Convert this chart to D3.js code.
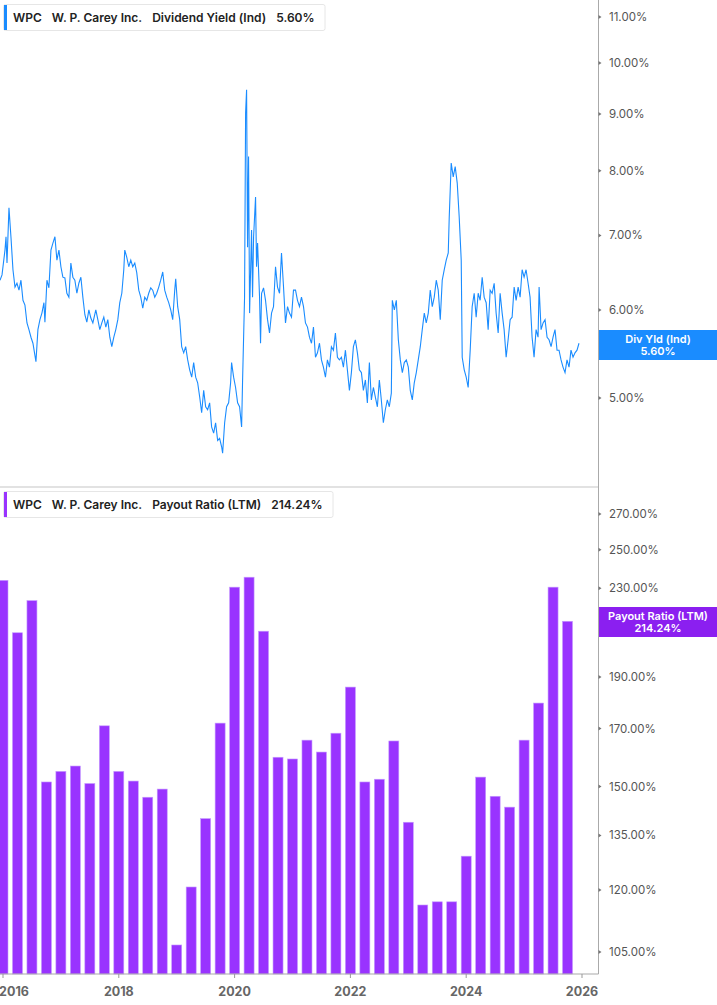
<!DOCTYPE html>
<html>
<head>
<meta charset="utf-8">
<script src="https://cdn.jsdelivr.net/npm/d3@7"></script>
<style>
  body { margin: 0; background: #fff; }
  svg { display: block; font-family: Inter, "Noto Sans", sans-serif; }
</style>
</head>
<body>
<svg id="chart" width="717" height="1005"></svg>
<script>
// Dividend yield (Ind), years after 2016 and value in %
var yldYears = [-0.052,-0.017,0.034,0.052,0.069,0.103,0.138,0.172,0.207,0.241,0.276,0.310,0.345,0.379,0.414,0.448,0.483,0.517,0.569,0.603,0.638,0.672,0.707,0.724,0.759,0.793,0.828,0.862,0.897,0.931,0.966,
  1.000,1.034,1.069,1.103,1.138,1.172,1.207,1.241,1.276,1.310,1.345,1.379,1.414,1.448,1.483,1.517,1.552,1.603,1.638,1.672,1.707,1.741,1.776,1.810,1.845,1.879,1.914,1.948,1.983,
  2.017,2.052,2.086,2.103,2.138,2.172,2.207,2.241,2.276,2.310,2.345,2.379,2.414,2.448,2.483,2.517,2.552,2.586,2.621,2.655,2.690,2.724,2.759,2.793,2.828,2.862,2.897,2.931,2.966,2.983,
  3.017,3.052,3.086,3.121,3.155,3.190,3.224,3.259,3.293,3.328,3.362,3.397,3.431,3.466,3.500,3.534,3.569,3.603,3.638,3.672,3.707,3.741,3.776,3.793,3.828,3.862,3.897,3.931,3.948,3.983,
  4.017,4.052,4.086,4.121,4.138,4.172,4.190,4.207,4.224,4.241,4.259,4.293,4.310,4.328,4.362,4.379,4.397,4.431,4.448,4.466,4.500,4.534,4.569,4.603,4.638,4.672,4.707,4.741,4.776,4.810,4.845,4.879,4.914,4.948,4.983,
  5.017,5.052,5.086,5.121,5.155,5.190,5.224,5.259,5.293,5.328,5.362,5.397,5.431,5.466,5.500,5.534,5.569,5.603,5.638,5.672,5.707,5.741,5.776,5.810,5.845,5.879,5.914,5.948,5.983,
  6.017,6.052,6.086,6.121,6.155,6.190,6.224,6.259,6.293,6.328,6.362,6.397,6.431,6.466,6.500,6.534,6.569,6.603,6.638,6.672,6.707,6.724,6.759,6.793,6.828,6.862,6.897,6.931,6.966,
  7.000,7.034,7.069,7.103,7.138,7.172,7.207,7.241,7.276,7.310,7.345,7.379,7.414,7.448,7.483,7.517,7.552,7.586,7.621,7.655,7.690,7.707,7.741,7.776,7.810,7.845,7.879,7.914,7.931,7.966,
  8.000,8.034,8.069,8.103,8.138,8.172,8.207,8.241,8.276,8.310,8.345,8.379,8.414,8.448,8.483,8.517,8.552,8.586,8.621,8.655,8.690,8.724,8.759,8.793,8.828,8.862,8.897,8.931,8.966,
  9.000,9.034,9.069,9.103,9.138,9.172,9.207,9.241,9.259,9.293,9.328,9.362,9.397,9.431,9.466,9.500,9.534,9.569,9.603,9.638,9.672,9.707,9.741,9.776,9.810,9.845,9.879,9.914,9.948];
var yldValues = [6.38,6.45,6.79,6.98,6.61,7.41,6.97,6.52,6.29,6.34,6.25,6.38,6.12,6.06,5.84,5.76,5.67,5.60,5.39,5.76,5.88,5.96,6.09,5.85,6.38,6.28,6.79,6.89,6.98,6.65,6.79,
  6.56,6.42,6.41,6.21,6.16,6.61,6.42,6.38,6.21,6.34,6.42,6.16,5.94,5.85,6.00,5.90,5.84,6.00,5.88,5.76,5.84,5.91,5.79,5.88,5.67,5.56,5.67,5.76,5.88,
  6.09,6.21,6.52,6.79,6.69,6.56,6.65,6.56,6.61,6.48,6.25,6.16,6.02,6.16,6.12,6.21,6.28,6.25,6.16,6.21,6.29,6.38,6.49,6.25,6.16,6.09,6.00,5.88,6.25,6.40,
  6.04,5.88,5.56,5.49,5.56,5.41,5.30,5.22,5.38,5.22,5.16,5.01,4.85,5.08,4.91,4.88,4.95,4.71,4.65,4.75,4.58,4.60,4.52,4.46,4.75,4.91,4.95,5.16,5.38,5.22,
  5.11,4.95,4.91,4.71,5.19,6.16,9.02,9.46,6.83,8.24,5.96,7.08,6.16,6.98,7.58,6.56,6.89,6.16,5.60,6.21,6.28,6.12,5.88,5.72,5.96,6.04,6.56,6.29,6.21,6.75,6.29,5.84,6.04,5.96,5.91,
  6.25,6.25,6.12,6.04,6.16,6.04,5.84,5.79,5.67,5.60,5.79,5.44,5.49,5.60,5.41,5.33,5.22,5.41,5.33,5.56,5.52,5.72,5.44,5.41,5.44,5.33,5.52,5.30,5.08,
  5.27,5.56,5.64,5.49,5.30,5.27,5.08,5.19,4.95,5.38,4.98,5.11,5.01,4.91,5.19,4.98,4.75,4.88,4.98,4.91,5.05,6.12,6.00,6.12,5.64,5.41,5.27,5.38,5.41,
  5.33,5.08,4.98,5.16,5.27,5.41,5.56,5.76,5.96,5.84,5.96,6.25,6.04,6.16,6.38,6.25,5.88,6.38,6.52,6.65,6.75,7.27,8.13,7.90,8.07,7.80,7.27,6.65,5.44,5.30,
  5.22,5.11,5.52,6.04,6.21,5.91,6.21,6.12,6.42,6.16,6.09,5.76,6.25,6.21,6.34,5.96,5.72,6.21,5.96,5.76,5.44,5.64,5.88,5.91,6.29,6.12,6.29,6.16,6.52,
  6.42,6.52,6.34,6.16,5.67,5.44,5.76,5.67,6.29,5.76,5.84,5.88,5.67,5.64,5.56,5.67,5.76,5.52,5.52,5.41,5.33,5.27,5.41,5.33,5.52,5.44,5.49,5.52,5.60];

// Payout ratio (LTM), quarterly from 2016 Q1
var payoutStart = 2016;
var payoutValues = [234,209,224,151.5,155,156.8,151,171,155,151.8,146.6,149.2,106.6,120.8,140,172,
  230.6,235.6,209.7,159.8,159.2,165.8,161.6,168.3,185.9,151.5,152.4,165.5,138.9,116.2,117,117,
  129.1,153.1,146.9,143.5,165.8,179.6,230.6,214.24];

var yldTicks = [5,6,7,8,9,10,11];
var payTicks = [105,120,135,150,170,190,210,230,250,270];
var yearTicks = [2016,2018,2020,2022,2024,2026];

var svg = d3.select("#chart");
var axisX = 598.5, baseY = 974;

var x = d3.scaleLinear().domain([2016, 2026]).range([3, 582]);
var yTop = d3.scaleLog().domain([5, 10]).range([398, 63]);
var yBot = d3.scaleLog().domain([105, 270]).range([952, 514]);

svg.append("defs").append("clipPath").attr("id", "clip")
  .append("rect").attr("x", 0).attr("y", 0).attr("width", axisX).attr("height", 1005);

// divider between panes
svg.append("line").attr("x1", 0).attr("x2", axisX).attr("y1", 487).attr("y2", 487)
  .attr("stroke", "#e2e2e2").attr("stroke-width", 2);

// dividend yield line
var line = d3.line()
  .x((d, i) => x(2016 + yldYears[i]))
  .y(d => yTop(d));
svg.append("path").datum(yldValues)
  .attr("clip-path", "url(#clip)")
  .attr("d", line)
  .attr("fill", "none").attr("stroke", "#1a8cff").attr("stroke-width", 1.1);

// payout bars
svg.append("g").attr("clip-path", "url(#clip)")
  .selectAll("rect").data(payoutValues).enter().append("rect")
  .attr("x", (d, i) => x(payoutStart + i * 0.25) - 5)
  .attr("width", 10)
  .attr("y", d => yBot(d))
  .attr("height", d => baseY - yBot(d))
  .attr("fill", "#9933ff")
  .attr("stroke", "#c59bff").attr("stroke-width", 0.6);

// right axis line
svg.append("line").attr("x1", axisX).attr("x2", axisX).attr("y1", 0).attr("y2", baseY)
  .attr("stroke", "#aaa").attr("stroke-width", 1);

function rightTicks(ticks, scale, skip) {
  var g = svg.append("g");
  ticks.forEach(t => {
    if (skip && skip(t)) return;
    var yy = scale(t);
    g.append("path").attr("d", `M${axisX},${yy - 2}L${axisX + 3},${yy}L${axisX},${yy + 2}Z`).attr("fill", "#777");
    g.append("text").attr("x", 609).attr("y", yy + 4)
      .attr("font-size", 11.5).attr("fill", "#555").text(t.toFixed(2) + "%");
  });
}
rightTicks(yldTicks, yTop);
// 210% sits under the value tag
rightTicks(payTicks, yBot, t => t === 210);

// bottom axis
svg.append("line").attr("x1", 0).attr("x2", axisX).attr("y1", baseY).attr("y2", baseY)
  .attr("stroke", "#aaa").attr("stroke-width", 1.2);
yearTicks.forEach(t => {
  svg.append("line").attr("x1", x(t)).attr("x2", x(t)).attr("y1", baseY).attr("y2", baseY + 4)
    .attr("stroke", "#999");
  svg.append("text").attr("x", Math.max(x(t), 14)).attr("y", 996).attr("text-anchor", "middle")
    .attr("font-size", 12.5).attr("font-weight", 700).attr("fill", "#666").text(t);
});

// value tags
function tag(y0, color, label, value) {
  svg.append("rect").attr("x", axisX + 0.5).attr("y", y0).attr("width", 717 - axisX).attr("height", 30).attr("fill", color);
  svg.append("text").attr("x", 658).attr("y", y0 + 13).attr("text-anchor", "middle")
    .attr("font-size", 11).attr("font-weight", 600).attr("fill", "#fff").text(label);
  svg.append("text").attr("x", 658).attr("y", y0 + 25).attr("text-anchor", "middle")
    .attr("font-size", 11).attr("font-weight", 600).attr("fill", "#fff").text(value);
}
tag(330, "#1a8cff", "Div Yld (Ind)", "5.60%");
tag(607, "#8b1ff0", "Payout Ratio (LTM)", "214.24%");

// legends
function legend(y0, color, parts) {
  var box = svg.append("rect").attr("x", 3.5).attr("y", y0 + 0.5).attr("height", 26).attr("rx", 2)
    .attr("fill", "#fff").attr("stroke", "#e6e6e6");
  svg.append("rect").attr("x", 4).attr("y", y0 + 1).attr("width", 3).attr("height", 25).attr("fill", color);
  var cx = 13;
  parts.forEach(p => {
    var t = svg.append("text").attr("x", cx).attr("y", y0 + 18).attr("font-size", 12)
      .attr("font-weight", 600).attr("fill", "#222").text(p);
    cx += t.node().getComputedTextLength() + 10;
  });
  box.attr("width", cx - 3);
}
legend(4, "#1a8cff", ["WPC", "W. P. Carey Inc.", "Dividend Yield (Ind)", "5.60%"]);
legend(491, "#9933ff", ["WPC", "W. P. Carey Inc.", "Payout Ratio (LTM)", "214.24%"]);
</script>
</body>
</html>
